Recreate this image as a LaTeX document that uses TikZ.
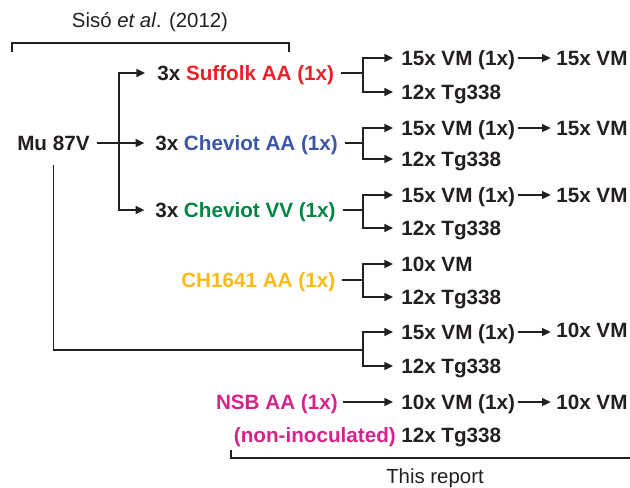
\documentclass[tikz,border=0pt]{standalone}
\usepackage{fontspec}
\setmainfont{Liberation Sans}
\usetikzlibrary{arrows.meta}

\definecolor{ink}{RGB}{35,31,32}
\definecolor{suffolkred}{RGB}{237,32,39}
\definecolor{cheviotblue}{RGB}{60,86,166}
\definecolor{cheviotgreen}{RGB}{0,133,66}
\definecolor{chyellow}{RGB}{253,186,24}
\definecolor{nsbpink}{RGB}{214,35,140}

\tikzset{
  lbl/.style={font=\bfseries\fontsize{15.5}{17}\selectfont, text=ink, inner sep=0pt,
    text height=10.8pt, text depth=0pt, anchor=west},
  ref/.style={font=\fontsize{15.3}{17}\selectfont, text=ink, inner sep=0pt},
  arr/.style={-{Triangle[length=6.5pt,width=6pt]}},
  ln/.style={draw=ink, line width=1.1pt}
}

\begin{document}
\begin{tikzpicture}[x=0.75pt,y=-0.75pt]
\useasboundingbox (0,0) rectangle (630,487);

%brackets
\draw[ln, line width=0.8pt] (12,52)--(12,43)--(289,43)--(289,52);
\node[ref] (siso) at (150,22) {Sisó \textit{et al}. (2012)};
\draw[ln, line width=0.8pt] (231,450)--(231,458)--(630,458);
\node[ref] (report) at (435,478) {This report};

%source and first passage
\node[lbl] (mu) at (17,143) {Mu 87V};
\node[lbl] (suf) at (157,73) {3x \textcolor{suffolkred}{Suffolk AA (1x)}};
\node[lbl] (cha) at (155,143) {3x \textcolor{cheviotblue}{Cheviot AA (1x)}};
\node[lbl] (chv) at (155,210) {3x \textcolor{cheviotgreen}{Cheviot VV (1x)}};
\node[lbl] (ch) at (181,280) {\textcolor{chyellow}{CH1641 AA (1x)}};
\node[lbl, anchor=east] (nsb) at (338,402) {\textcolor{nsbpink}{NSB AA (1x)}};
\node[lbl, anchor=east] (noninoc) at (396,435) {\textcolor{nsbpink}{(non-inoculated)}};

%second and third passage
\node[lbl] (vma) at (401,58) {15x VM (1x)};  \node[lbl] (tga) at (401,92) {12x Tg338};
\node[lbl] (vmb) at (401,128) {15x VM (1x)}; \node[lbl] (tgb) at (401,159) {12x Tg338};
\node[lbl] (vmc) at (401,195) {15x VM (1x)}; \node[lbl] (tgc) at (401,228) {12x Tg338};
\node[lbl] (vmd) at (401,264) {10x VM};      \node[lbl] (tgd) at (401,297) {12x Tg338};
\node[lbl] (vme) at (401,332) {15x VM (1x)}; \node[lbl] (tge) at (401,366) {12x Tg338};
\node[lbl] (vmf) at (401,402) {10x VM (1x)}; \node[lbl] (tgf) at (401,435) {12x Tg338};

\node[lbl] (fa) at (556,58) {15x VM};
\node[lbl] (fb) at (556,128) {15x VM};
\node[lbl] (fc) at (556,195) {15x VM};
\node[lbl] (fe) at (556,330) {10x VM};
\node[lbl] (ff) at (556,402) {10x VM};

%junctions
\coordinate (mj) at (119,143);
\coordinate (ja) at (363,73);
\coordinate (jb) at (363,143);
\coordinate (jc) at (363,210);
\coordinate (jd) at (363,280);
\coordinate (je) at (363,350);

%Mu 87V
\draw[ln, arr] ([xshift=5pt]mu.east)--([xshift=-8pt]cha.west);
\draw[ln, arr] (mj) |- ([xshift=-9pt]suf.west);
\draw[ln, arr] (mj) |- ([xshift=-8pt]chv.west);
\draw[ln] ([yshift=-11pt]mu.south) |- (je);

%branches
\draw[ln] ([xshift=5pt]suf.east)--(ja);
\draw[ln] ([xshift=5pt]cha.east)--(jb);
\draw[ln] ([xshift=5pt]chv.east)--(jc);
\draw[ln] ([xshift=5pt]ch.east)--(jd);
\foreach \j/\v/\t in {ja/vma/tga, jb/vmb/tgb, jc/vmc/tgc, jd/vmd/tgd, je/vme/tge}{
  \draw[ln, arr] (\j) |- ([xshift=-6pt]\v.west);
  \draw[ln, arr] (\j) |- ([xshift=-6pt]\t.west);
}
\draw[ln, arr] ([xshift=4pt]nsb.east)--([xshift=-6pt]vmf.west);

%onward passages
\foreach \v/\f in {vma/fa, vmb/fb, vmc/fc, vmf/ff}{
  \draw[ln, arr] ([xshift=2pt]\v.east)--([xshift=-4pt]\f.west);
}
\draw[ln, arr] ([xshift=2pt]vme.east)--([xshift=-4pt]fe.west |- vme.east);

\end{tikzpicture}
\end{document}
